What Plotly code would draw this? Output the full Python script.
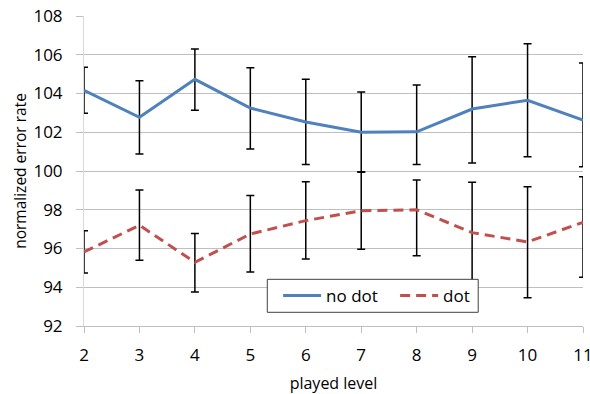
import plotly.graph_objects as go

levels = [2, 3, 4, 5, 6, 7, 8, 9, 10, 11]

no_dot = [104.16, 102.77, 104.73, 103.25, 102.53, 102.0, 102.02, 103.2, 103.65, 102.63]
no_dot_plus = [1.19, 1.89, 1.57, 2.08, 2.2, 2.08, 2.42, 2.7, 2.92, 2.94]
no_dot_minus = [1.18, 1.89, 1.60, 2.11, 2.2, 2.05, 1.69, 2.79, 2.91, 2.41]

dot = [95.82, 97.2, 95.29, 96.75, 97.44, 97.95, 98.0, 96.82, 96.34, 97.35]
dot_plus = [1.10, 1.82, 1.48, 1.98, 2.01, 2.0, 1.54, 2.6, 2.85, 2.35]
dot_minus = [1.08, 1.81, 1.54, 1.96, 1.98, 1.99, 2.37, 2.6, 2.88, 2.84]

y_ticks = [92, 94, 96, 98, 100, 102, 104, 106, 108]
x_ticks = levels

FONT = "Open Sans"

fig = go.Figure()
fig.add_trace(go.Scatter(
    x=levels, y=no_dot, mode="lines", name="no dot",
    line=dict(color="#4F81BD", width=3),
    error_y=dict(type="data", symmetric=False, array=no_dot_plus, arrayminus=no_dot_minus,
                 color="black", thickness=1.5, width=4),
    cliponaxis=False,
))
fig.add_trace(go.Scatter(
    x=levels, y=dot, mode="lines", name="dot",
    line=dict(color="#C0504D", width=3, dash="10px,6px"),
    error_y=dict(type="data", symmetric=False, array=dot_plus, arrayminus=dot_minus,
                 color="black", thickness=1.5, width=4),
    cliponaxis=False,
))

# legend frame (white box with dark border) in paper coordinates
fig.add_shape(
    type="rect", xref="paper", yref="paper",
    x0=0.3673, x1=0.790, y0=0.0442, y1=0.1506,
    fillcolor="white", line=dict(color="#404040", width=1), layer="above",
)

fig.update_layout(
    width=590, height=394,
    margin=dict(l=84, r=7, t=16, b=68, autoexpand=False),
    paper_bgcolor="white", plot_bgcolor="white",
    font=dict(family=FONT, size=16, color="black"),
    showlegend=True,
    legend=dict(
        orientation="h", x=0.389, y=0.0968, xanchor="left", yanchor="middle",
        bgcolor="rgba(0,0,0,0)", borderwidth=0,
        font=dict(family=FONT, size=17, color="black"),
        itemwidth=38, entrywidth=64, tracegroupgap=0,
    ),
    xaxis=dict(
        range=[2, 11], tickmode="array", tickvals=x_ticks, automargin=False,
        showgrid=False, zeroline=False,
        showline=True, linecolor="#BFBFBF", linewidth=1,
        ticks="outside", ticklen=6, tickcolor="#BFBFBF", ticklabelstandoff=8,
        ticklabeloverflow="allow",
        tickfont=dict(family=FONT, size=17, color="black"),
        title=dict(text="played level", font=dict(family=FONT, size=16, color="black"), standoff=20),
    ),
    yaxis=dict(
        range=[92, 108], tickmode="array", tickvals=y_ticks, automargin=False,
        showgrid=True, gridcolor="#BFBFBF", gridwidth=1, zeroline=False,
        showline=True, linecolor="#D9D9D9", linewidth=1,
        ticks="outside", ticklen=7, tickcolor="#BFBFBF", ticklabelstandoff=10,
        ticklabeloverflow="allow",
        tickfont=dict(family=FONT, size=17, color="black"),
        title=dict(text="normalized error rate", font=dict(family=FONT, size=15.5, color="black"), standoff=3),
    ),
)

fig.write_html(
    "out.html",
    config={"displayModeBar": False},
    post_script="document.body.style.margin='0';document.body.style.padding='0';",
)
